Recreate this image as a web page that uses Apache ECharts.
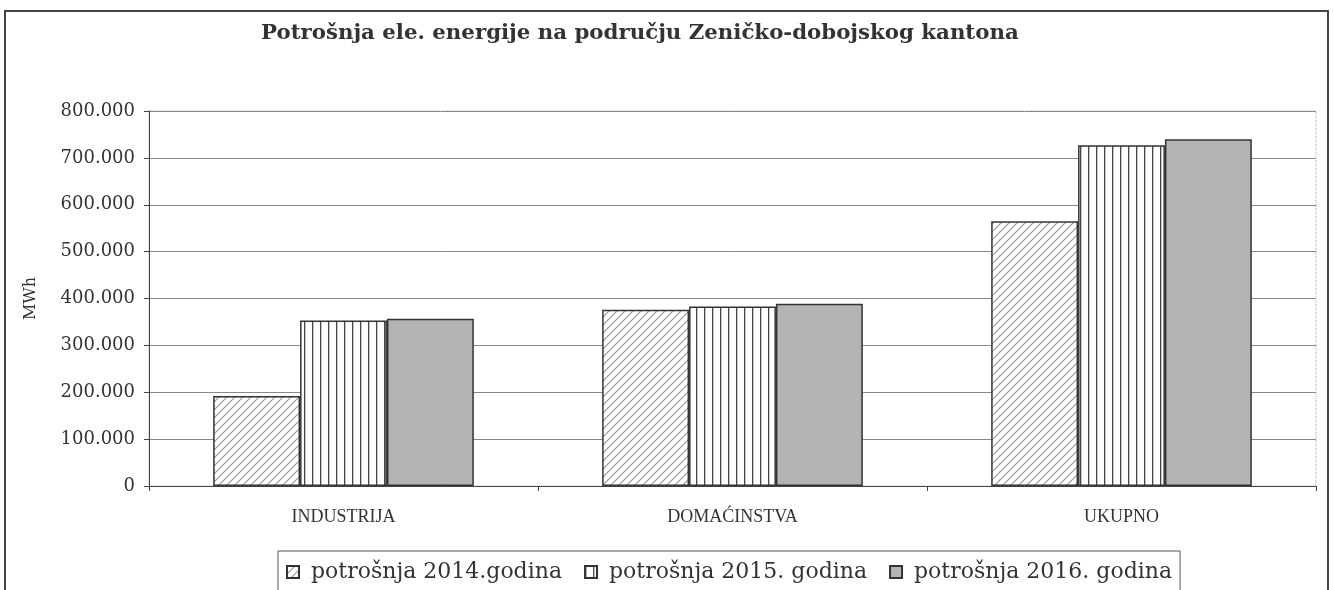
<!DOCTYPE html>
<html lang="bs">
<head>
    <meta charset="UTF-8">
    <title>Potrošnja ele. energije</title>
    <script src="https://cdn.jsdelivr.net/npm/echarts@6/dist/echarts.min.js"></script>
</head>
<style>
    html,body{
        margin:0;
        padding:0;
        background:#fff;
    }
    #chart{
        width:1334px;
        height:590px;
    }
</style>
<body>
    <div id="chart"></div>
    <script>
        // podaci ocitani sa grafika (MWh)
        var kategorije = ['INDUSTRIJA', 'DOMAĆINSTVA', 'UKUPNO'];
        var nazivi = ['potrošnja 2014.godina', 'potrošnja 2015. godina', 'potrošnja 2016. godina'];
        var god2014 = [192000, 376000, 565000];
        var god2015 = [353000, 383000, 727000];
        var god2016 = [357000, 389000, 740000];

        // sare za stupce
        function kosaSrafura(){
            var c = document.createElement('canvas');
            c.width = 8; c.height = 8;
            var g = c.getContext('2d');
            g.fillStyle = '#fff';
            g.fillRect(0, 0, 8, 8);
            g.strokeStyle = '#999';
            g.lineWidth = 1.2;
            g.beginPath();
            g.moveTo(0, 8); g.lineTo(8, 0);
            g.moveTo(-2, 2); g.lineTo(2, -2);
            g.moveTo(6, 10); g.lineTo(10, 6);
            g.stroke();
            return c;
        }
        function vertikalne(){
            var c = document.createElement('canvas');
            c.width = 8; c.height = 4;
            var g = c.getContext('2d');
            g.fillStyle = '#fff';
            g.fillRect(0, 0, 8, 4);
            g.fillStyle = '#444';
            g.fillRect(0, 0, 1.3, 4);
            return c;
        }

        var boje = [
            {image: kosaSrafura(), repeat: 'repeat'},
            {image: vertikalne(), repeat: 'repeat'},
            '#b4b4b4'
        ];
        var serif = '"DejaVu Serif", serif';

        function broj(v){
            if (v === 0) return '0';
            return String(v).replace(/\B(?=(\d{3})+(?!\d))/g, '.');
        }

        var chart = echarts.init(document.getElementById('chart'));
        var nizovi = [god2014, god2015, god2016].map(function(d, i){
            return {
                name: nazivi[i],
                type: 'bar',
                data: d,
                barGap: '0%',
                barCategoryGap: '33%',
                itemStyle: {
                    color: boje[i],
                    borderColor: '#333',
                    borderWidth: 1.5
                }
            };
        });

        var option = {
            animation: false,
            backgroundColor: '#fff',
            title: {
                text: 'Potrošnja ele. energije na području Zeničko-dobojskog kantona',
                left: 256,
                top: 18,
                textStyle: {
                    fontFamily: serif,
                    fontWeight: 'bold',
                    fontSize: 21.3,
                    color: '#333'
                }
            },
            legend: {
                left: 278,
                top: 551,
                data: nazivi,
                icon: 'rect',
                itemWidth: 12,
                itemHeight: 12,
                itemGap: 22,
                formatter: ' {name}',
                padding: [10, 8, 12, 8],
                borderColor: '#555',
                borderWidth: 1,
                textStyle: {
                    fontFamily: serif,
                    fontSize: 22,
                    color: '#333'
                }
            },
            grid: {
                left: 149,
                right: 18,
                top: 111,
                bottom: 104,
                show: true,
                borderColor: '#aaa',
                borderWidth: 1,
                borderType: 'dotted'
            },
            xAxis: {
                type: 'category',
                data: kategorije,
                axisLine: {lineStyle: {color: '#444', width: 1}},
                axisTick: {show: true, length: 5, lineStyle: {color: '#444'}},
                axisLabel: {
                    margin: 22,
                    fontFamily: '"Liberation Serif", serif',
                    fontSize: 18,
                    color: '#333'
                }
            },
            yAxis: {
                type: 'value',
                min: 0,
                max: 800000,
                interval: 100000,
                name: 'MWh',
                nameLocation: 'middle',
                nameGap: 110,
                nameTextStyle: {
                    fontFamily: serif,
                    fontSize: 16,
                    color: '#333'
                },
                axisLine: {show: true, lineStyle: {color: '#444', width: 1}},
                axisTick: {show: true, length: 5, lineStyle: {color: '#444'}},
                axisLabel: {
                    margin: 14,
                    formatter: broj,
                    fontFamily: serif,
                    fontSize: 18,
                    color: '#333'
                },
                splitLine: {lineStyle: {color: '#888', width: 1}}
            },
            graphic: [{
                type: 'rect',
                shape: {x: 5, y: 11, width: 1323, height: 600},
                style: {fill: null, stroke: '#444', lineWidth: 2},
                silent: true
            }],
            series: nizovi
        };
        chart.setOption(option);
    </script>
</body>
</html>
